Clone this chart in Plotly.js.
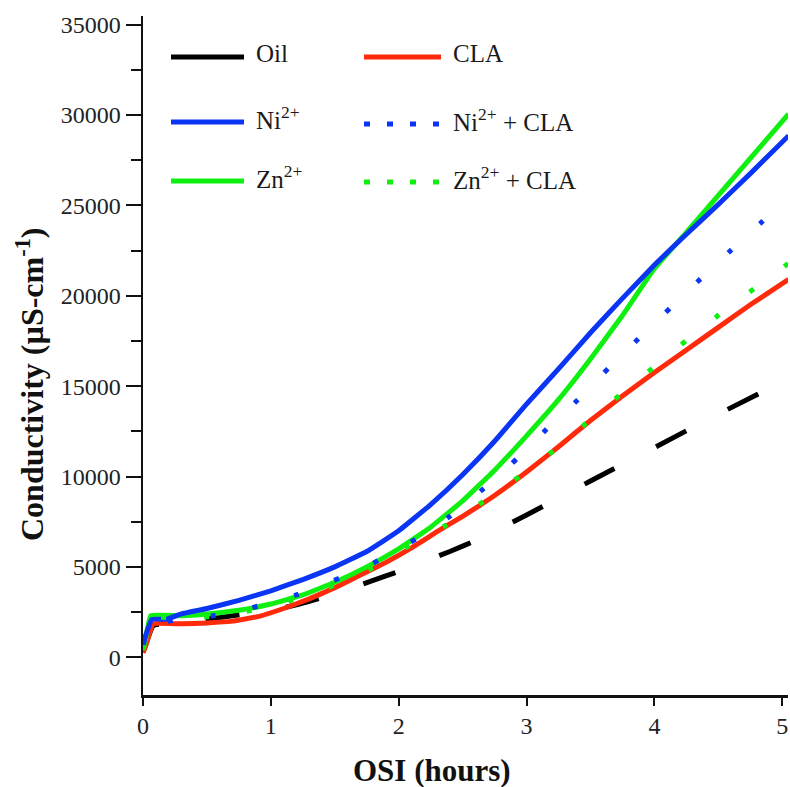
<!DOCTYPE html>
<html>
<head>
<meta charset="utf-8">
<script src="https://cdn.plot.ly/plotly-3.0.1.min.js"></script>
<style>html,body{margin:0;padding:0;background:#fff;}#chart{width:790px;height:787px;}</style>
</head>
<body>
<div id="chart"></div>
<script>
// ---- Data ----
const oilX = [0, 0.02, 0.08, 0.2, 0.4, 0.6, 0.8, 1.0, 1.2, 1.4, 1.6, 1.8, 2.0, 2.2, 2.4, 2.6, 2.8, 3.0, 3.5, 4.0, 4.5, 5.05];
const oilY = [300, 700, 1750, 1900, 2050, 2200, 2400, 2600, 2900, 3300, 3750, 4250, 4750, 5300, 5850, 6450, 7150, 7870, 9750, 11600, 13450, 15400];

const claX = [0, 0.02, 0.08, 0.3, 0.5, 0.7, 0.9, 1.1, 1.3, 1.5, 1.7, 1.9, 2.1, 2.3, 2.5, 2.75, 3.0, 3.25, 3.5, 3.75, 4.0, 4.25, 4.5, 4.75, 5.05];
const claY = [250, 600, 1850, 1850, 1900, 2000, 2250, 2700, 3230, 3850, 4550, 5250, 6050, 6950, 7800, 8950, 10250, 11650, 13100, 14450, 15750, 17000, 18250, 19500, 20900];

const niX = [0, 0.02, 0.07, 0.18, 0.3, 0.5, 0.75, 1.0, 1.25, 1.5, 1.75, 2.0, 2.25, 2.5, 2.75, 3.0, 3.25, 3.5, 3.75, 4.0, 4.25, 4.5, 4.75, 5.05];
const niY = [700, 1200, 2100, 2100, 2400, 2700, 3150, 3680, 4300, 5000, 5850, 7000, 8450, 10100, 11950, 14000, 15950, 17950, 19850, 21700, 23400, 25050, 26750, 28850];

const znX = [0, 0.02, 0.06, 0.3, 0.5, 0.75, 1.0, 1.25, 1.5, 1.75, 2.0, 2.25, 2.5, 2.75, 3.0, 3.25, 3.5, 3.75, 4.0, 4.25, 4.5, 4.75, 5.05];
const znY = [500, 1000, 2300, 2300, 2400, 2600, 2950, 3450, 4150, 5000, 6000, 7200, 8650, 10350, 12250, 14250, 16500, 18900, 21500, 23500, 25550, 27600, 30050];

const niClaX = [0, 0.02, 0.07, 0.19, 0.4, 0.6, 0.8, 1.0, 1.2, 1.4, 1.6, 1.8, 2.0, 2.2, 2.4, 2.6, 2.8, 3.0, 3.2, 3.4, 3.6, 3.8, 4.0, 4.2, 4.4, 4.6, 4.8, 5.05];
const niClaY = [700, 1200, 2100, 2000, 2200, 2340, 2650, 3020, 3450, 4000, 4550, 5200, 6000, 6800, 7800, 8950, 10150, 11500, 12930, 14230, 15700, 17100, 18480, 19830, 21200, 22520, 23820, 25450];

const znClaX = [0, 0.02, 0.07, 0.3, 0.6, 1.0, 1.4, 1.8, 2.05, 2.35, 2.65, 2.95, 3.25, 3.5, 3.8, 4.1, 4.35, 4.65, 4.95, 5.05];
const znClaY = [400, 900, 2200, 2150, 2300, 2800, 3700, 4950, 6050, 7220, 8560, 10030, 11630, 13160, 14910, 16650, 18100, 19720, 21250, 21800];

const xTicks = [0, 1, 2, 3, 4, 5];
const yTicks = [0, 5000, 10000, 15000, 20000, 25000, 30000, 35000];

const seriesNames = ['Oil', 'CLA', 'Ni<sup>2+</sup>', 'Ni<sup>2+</sup> + CLA', 'Zn<sup>2+</sup>', 'Zn<sup>2+</sup> + CLA'];

// ---- Styles ----
const BLACK = '#000000', RED = '#ff2a0a', BLUE = '#0a35f5', GREEN = '#10f010';
const W = 5;
const dotDash = '5px,38px';
const SERIF = 'Liberation Serif, Times New Roman, serif';

const traces = [
  {x: oilX, y: oilY, name: 'Oil', line: {color: BLACK, width: W, dash: '34px,47px'}},
  {x: claX, y: claY, name: 'CLA', line: {color: RED, width: W}},
  {x: znX, y: znY, name: 'Zn2+', line: {color: GREEN, width: W}},
  {x: niX, y: niY, name: 'Ni2+', line: {color: BLUE, width: W}},
  {x: znClaX, y: znClaY, name: 'Zn2+ + CLA', line: {color: GREEN, width: W, dash: dotDash}},
  {x: niClaX, y: niClaY, name: 'Ni2+ + CLA', line: {color: BLUE, width: W, dash: dotDash}}
];
traces.forEach(t => {
  t.type = 'scatter'; t.mode = 'lines'; t.showlegend = false; t.hoverinfo = 'skip';
  t.line.shape = 'spline'; t.line.smoothing = 0.3;
});

// ---- Plot geometry helpers (pixel -> paper) ----
const L = 143, R = 788, T = 16, B = 695;
const px = v => (v - L) / (R - L);
const py = v => (B - v) / (B - T);

// legend entries: [name, color, dash, column, rowY]
const legendItems = [
  [seriesNames[0], BLACK, 'solid', 0, 57],
  [seriesNames[1], RED, 'solid', 1, 57],
  [seriesNames[2], BLUE, 'solid', 0, 122],
  [seriesNames[3], BLUE, '6px,17px', 1, 124],
  [seriesNames[4], GREEN, 'solid', 0, 181],
  [seriesNames[5], GREEN, '6px,17px', 1, 182]
];
const colLine = [[171, 244], [364, 441]];
const colText = [254, 451];

const shapes = [];
const annotations = [];
legendItems.forEach(([name, color, dash, col, yy]) => {
  shapes.push({type: 'line', xref: 'paper', yref: 'paper',
    x0: px(colLine[col][0]), x1: px(colLine[col][1]), y0: py(yy), y1: py(yy),
    line: {color: color, width: 5, dash: dash}});
  annotations.push({xref: 'paper', yref: 'paper', x: px(colText[col]), y: py(yy - 4),
    xanchor: 'left', yanchor: 'middle', showarrow: false, text: name,
    font: {family: SERIF, size: 25, color: '#1a1a1a'}});
});

// axis titles as annotations for exact placement
annotations.push({xref: 'paper', yref: 'paper', x: px(432), y: py(770), xanchor: 'center', yanchor: 'middle',
  showarrow: false, text: '<b>OSI (hours)</b>',
  font: {family: SERIF, size: 31, color: '#111'}});
annotations.push({xref: 'paper', yref: 'paper', x: px(30), y: py(384), xanchor: 'center', yanchor: 'middle',
  showarrow: false, textangle: -90, text: '<b>Conductivity (µS-cm<sup>-1</sup>)</b>',
  font: {family: SERIF, size: 32, color: '#111'}});

const tickFont = {family: SERIF, size: 24, color: '#222'};

const layout = {
  width: 790, height: 787,
  margin: {l: L, r: 790 - R, t: T, b: 787 - B, pad: 0},
  paper_bgcolor: '#ffffff', plot_bgcolor: '#ffffff',
  showlegend: false,
  xaxis: {
    range: [0, 5.045], showgrid: false, zeroline: false,
    showline: true, linecolor: '#111', linewidth: 2.5,
    tickmode: 'array', tickvals: xTicks, ticktext: xTicks.map(String),
    ticks: 'outside', ticklen: 8, tickwidth: 2, tickcolor: '#111',
    tickfont: tickFont
  },
  yaxis: {
    range: [-2085, 35470], showgrid: false, zeroline: false,
    showline: true, linecolor: '#111', linewidth: 2.5,
    tickmode: 'array', tickvals: yTicks, ticktext: yTicks.map(String),
    ticks: 'outside', ticklen: 15, tickwidth: 2, tickcolor: '#111',
    tickfont: tickFont,
    minor: {dtick: 2500, tick0: 0, ticks: 'outside', ticklen: 10, tickwidth: 2, tickcolor: '#111'}
  },
  shapes: shapes,
  annotations: annotations
};

Plotly.newPlot('chart', traces, layout, {displayModeBar: false, staticPlot: true});
</script>
</body>
</html>
